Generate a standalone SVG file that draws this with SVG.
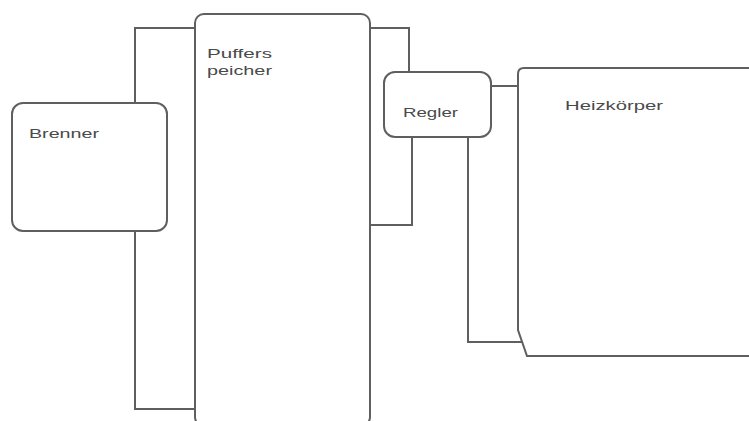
<svg xmlns="http://www.w3.org/2000/svg" width="749" height="421" viewBox="0 0 749 421">
<style>
.shape{fill:#fff;stroke:#5f5f5f;stroke-width:2}
.conn{fill:none;stroke:#5f5f5f;stroke-width:2}
.lbl{font-family:"Liberation Sans",Arial,sans-serif;font-size:13px;fill:#4a4a4a}
</style>
<rect width="749" height="421" fill="#fff"/>
<g id="connectors">
<path class="conn" d="M135,103 V28 H195"/>
<path class="conn" d="M135,231 V409 H195"/>
<path class="conn" d="M370,28 H409 V72"/>
<path class="conn" d="M412,137 V225 H370"/>
<path class="conn" d="M491,86 H518"/>
<path class="conn" d="M468,137 V342 H523"/>
</g>
<g id="brenner">
<rect class="shape" x="12" y="103" width="155" height="128" rx="11"/>
<text class="lbl" x="29" y="138" textLength="70" lengthAdjust="spacingAndGlyphs">Brenner</text>
</g>
<g id="pufferspeicher">
<rect class="shape" x="195" y="14" width="175" height="412" rx="9"/>
<text class="lbl" x="207" y="58" textLength="65" lengthAdjust="spacingAndGlyphs">Puffers</text>
<text class="lbl" x="207" y="75" textLength="65" lengthAdjust="spacingAndGlyphs">peicher</text>
</g>
<g id="regler">
<rect class="shape" x="384" y="72" width="107" height="65" rx="11"/>
<text class="lbl" x="403" y="117" textLength="55" lengthAdjust="spacingAndGlyphs">Regler</text>
</g>
<g id="heizkoerper">
<path class="shape" d="M760,68 H524 Q518,68 518,74 V330 L527,356 H760"/>
<text class="lbl" x="565" y="110" textLength="98" lengthAdjust="spacingAndGlyphs">Heizkörper</text>
</g>
</svg>
